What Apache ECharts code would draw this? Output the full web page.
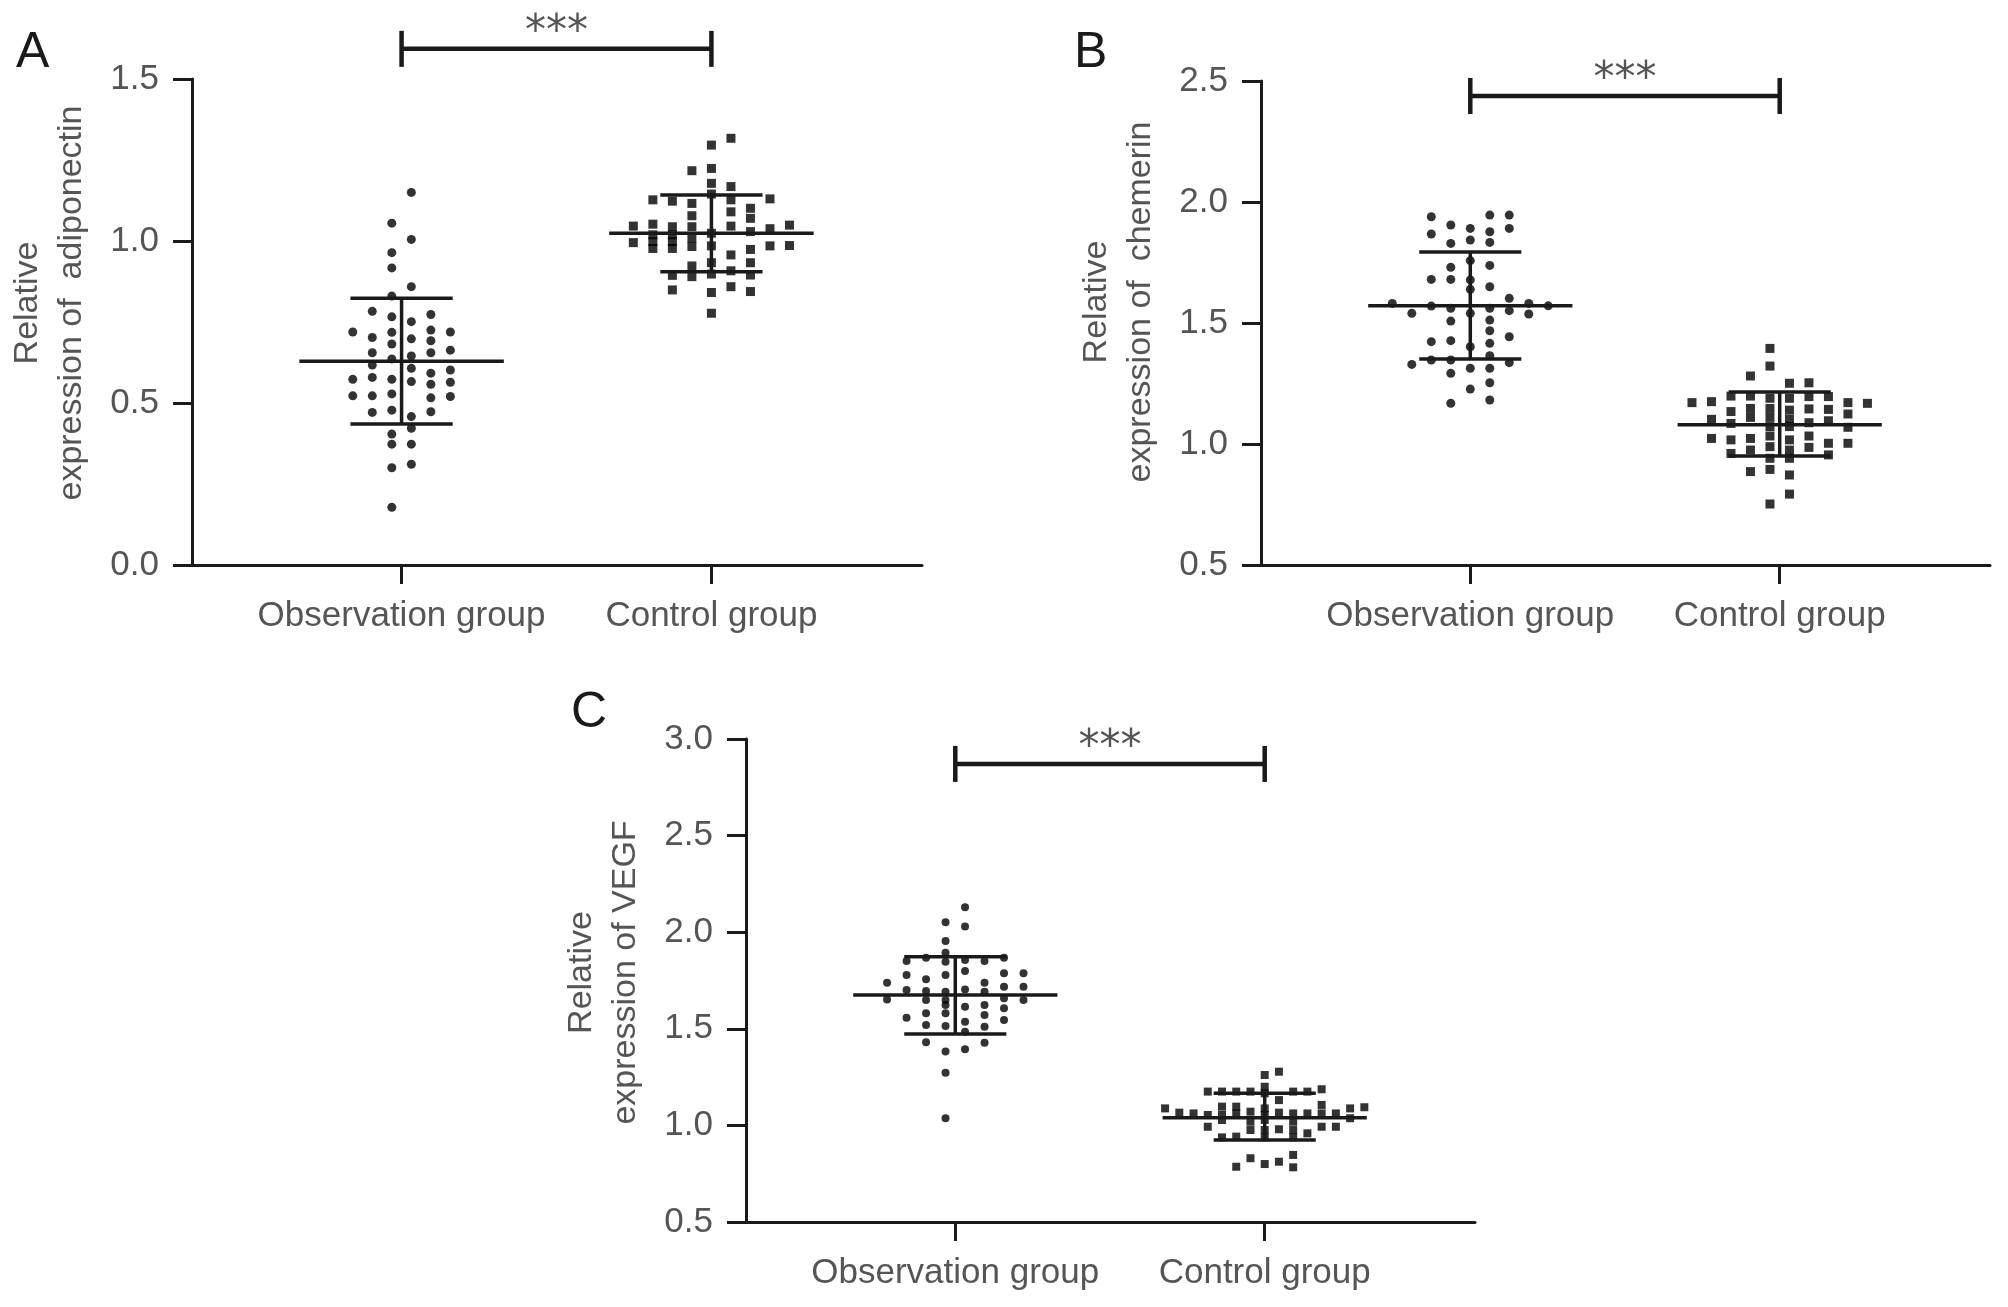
<!DOCTYPE html>
<html>
<head>
<meta charset="utf-8">
<script src="https://cdn.jsdelivr.net/npm/echarts@6/dist/echarts.min.js"></script>
<style>html,body{margin:0;padding:0;background:#fff}#chart{width:2008px;height:1307px}</style>
</head>
<body>
<div id="chart"></div>
<script>
// ---------- data ----------
const categories = ['Observation group', 'Control group'];
const groupPos = [1, 2];

// y-axis ticks per panel
const yTicksA = [0.0, 0.5, 1.0, 1.5];
const yTicksB = [0.5, 1.0, 1.5, 2.0, 2.5];
const yTicksC = [0.5, 1.0, 1.5, 2.0, 2.5, 3.0];

const yNameA = 'Relative\nexpression of  adiponectin';
const yNameB = 'Relative\nexpression of  chemerin';
const yNameC = 'Relative\nexpression of VEGF';

// points: [column in the dot swarm, value]
const obsA = [
  [0.5,1.150],[0.5,1.005],[0.5,0.859],[0.5,0.751],[0.5,0.698],[0.5,0.645],[0.5,0.607],[0.5,0.566],[0.5,0.458],[0.5,0.422],[0.5,0.373],[0.5,0.311],
  [-0.5,1.055],[-0.5,0.964],[-0.5,0.917],[-0.5,0.830],[-0.5,0.766],[-0.5,0.718],[-0.5,0.682],[-0.5,0.636],[-0.5,0.573],[-0.5,0.528],[-0.5,0.478],[-0.5,0.404],[-0.5,0.373],[-0.5,0.300],[-0.5,0.178],
  [-1.5,0.783],[-1.5,0.702],[-1.5,0.655],[-1.5,0.617],[-1.5,0.579],[-1.5,0.522],[-1.5,0.471],
  [-2.5,0.719],[-2.5,0.573],[-2.5,0.522],
  [1.5,0.773],[1.5,0.725],[1.5,0.692],[1.5,0.655],[1.5,0.592],[1.5,0.558],[1.5,0.516],[1.5,0.473],
  [2.5,0.719],[2.5,0.663],[2.5,0.602],[2.5,0.564],[2.5,0.520]
];
const ctrlA = [
  [0,1.296],[0,1.224],[0,1.178],[0,1.145],[0,1.024],[0,0.985],[0,0.933],[0,0.898],[0,0.841],[0,0.777],
  [1,1.317],[1,1.168],[1,1.127],[1,1.090],[1,1.046],[1,0.957],[1,0.908],[1,0.859],
  [-1,1.217],[-1,1.116],[-1,1.078],[-1,1.044],[-1,1.009],[-1,0.983],[-1,0.923],[-1,0.890],
  [-2,1.123],[-2,1.044],[-2,1.019],[-2,0.998],[-2,0.977],[-2,0.894],[-2,0.849],
  [2,1.101],[2,1.070],[2,1.029],[2,0.974],[2,0.933],[2,0.895],[2,0.844],
  [-3,1.127],[-3,1.052],[-3,1.019],[-3,0.998],[-3,0.977],
  [3,1.130],[3,1.038],[3,0.985],
  [-4,1.046],[-4,0.995],
  [4,1.049],[4,0.986]
];
const obsB = [
  [0,1.891],[0,1.843],[0,1.758],[0,1.678],[0,1.639],[0,1.540],[0,1.402],[0,1.313],[0,1.227],
  [1,1.946],[1,1.877],[1,1.833],[1,1.738],[1,1.650],[1,1.561],[1,1.512],[1,1.468],[1,1.416],[1,1.365],[1,1.313],[1,1.253],[1,1.182],
  [-1,1.905],[-1,1.829],[-1,1.730],[-1,1.680],[-1,1.561],[-1,1.508],[-1,1.427],[-1,1.347],[-1,1.292],[-1,1.168],
  [-2,1.939],[-2,1.868],[-2,1.680],[-2,1.570],[-2,1.423],[-2,1.347],
  [2,1.946],[2,1.891],[2,1.602],[2,1.551],[2,1.443],[2,1.336],
  [-3,1.540],[-3,1.329],
  [3,1.581],[3,1.537],
  [-4,1.581],
  [4,1.571]
];
const ctrlB = [
  [-0.5,1.395],[-0.5,1.322],[-0.5,1.189],[-0.5,1.147],[-0.5,1.110],[-0.5,1.072],[-0.5,1.033],[-0.5,0.989],[-0.5,0.941],[-0.5,0.895],[-0.5,0.752],
  [0.5,1.251],[0.5,1.189],[0.5,1.140],[0.5,1.102],[0.5,1.072],[0.5,1.017],[0.5,0.975],[0.5,0.941],[0.5,0.872],[0.5,0.793],
  [-1.5,1.281],[-1.5,1.198],[-1.5,1.147],[-1.5,1.110],[-1.5,1.023],[-1.5,0.975],[-1.5,0.886],
  [1.5,1.253],[1.5,1.196],[1.5,1.145],[1.5,1.088],[1.5,1.033],[1.5,0.986],
  [-2.5,1.198],[-2.5,1.134],[-2.5,1.085],[-2.5,1.017],[-2.5,0.961],
  [2.5,1.196],[2.5,1.143],[2.5,1.096],[2.5,1.003],[2.5,0.955],
  [-3.5,1.175],[-3.5,1.102],[-3.5,1.023],
  [3.5,1.171],[3.5,1.124],[3.5,1.069],[3.5,1.003],
  [-4.5,1.171],
  [4.5,1.168]
];
const obsC = [
  [-0.5,2.051],[-0.5,1.954],[-0.5,1.894],[-0.5,1.847],[-0.5,1.778],[-0.5,1.692],[-0.5,1.649],[-0.5,1.623],[-0.5,1.580],[-0.5,1.514],[-0.5,1.382],[-0.5,1.273],[-0.5,1.037],
  [0.5,2.129],[0.5,2.029],[0.5,1.856],[0.5,1.799],[0.5,1.704],[0.5,1.614],[0.5,1.537],[0.5,1.485],[0.5,1.394],
  [-1.5,1.868],[-1.5,1.756],[-1.5,1.696],[-1.5,1.649],[-1.5,1.580],[-1.5,1.520],[-1.5,1.430],
  [1.5,1.851],[1.5,1.739],[1.5,1.692],[1.5,1.623],[1.5,1.571],[1.5,1.511],[1.5,1.428],
  [-2.5,1.851],[-2.5,1.778],[-2.5,1.701],[-2.5,1.557],
  [2.5,1.868],[2.5,1.787],[2.5,1.718],[2.5,1.658],[2.5,1.606],[2.5,1.546],
  [-3.5,1.739],[-3.5,1.652],
  [3.5,1.787],[3.5,1.718],[3.5,1.649]
];
const ctrlC = [
  [-7,1.088],[-6,1.066],[-5,1.062],
  [-4,1.175],[-4,1.054],[-4,0.993],
  [-3,1.175],[-3,1.097],[-3,1.054],[-3,1.028],[-3,0.938],
  [-2,1.175],[-2,1.097],[-2,1.062],[-2,0.942],[-2,0.786],
  [-1,1.175],[-1,1.071],[-1,1.019],[-1,0.976],[-1,0.830],
  [0,1.261],[0,1.200],[0,1.166],[0,1.088],[0,1.054],[0,1.028],[0,0.976],[0,0.938],[0,0.800],
  [1,1.278],[1,1.131],[1,1.066],[1,0.980],[1,0.812],
  [2,1.175],[2,1.062],[2,1.019],[2,0.976],[2,0.938],[2,0.847],[2,0.783],
  [3,1.175],[3,1.062],[3,0.959],
  [4,1.187],[4,1.106],[4,1.062],[4,0.993],
  [5,1.062],[5,0.993],
  [6,1.088],[6,1.037],
  [7,1.094]
];

// mean and SD bars: [mean, lower, upper] for [observation, control]
const statsA = [[0.629, 0.435, 0.823], [1.024, 0.905, 1.142]];
const statsB = [[1.571, 1.351, 1.793], [1.080, 0.950, 1.215]];
const statsC = [[1.675, 1.473, 1.873], [1.040, 0.924, 1.166]];

// significance bracket level (value on the y scale) and label
const sigA = [1.593, '***'];
const sigB = [2.438, '***'];
const sigC = [2.871, '***'];

// ---------- chart ----------
const FONT = "'Liberation Sans', Arial, sans-serif";
const GREY = '#555';
const INK = '#1a1a1a';

const panels = [
  {letter:'A', ticks:yTicksA, name:yNameA, obs:obsA, ctrl:ctrlA, stats:statsA, sig:sigA,
   grid:{left:192, top:79, width:730, height:486}, step:[0.063,0.063], size:[9,9], namePad:38, letterPos:[34,58]},
  {letter:'B', ticks:yTicksB, name:yNameB, obs:obsB, ctrl:ctrlB, stats:statsB, sig:sigB,
   grid:{left:1261, top:81, width:729, height:484}, step:[0.063,0.063], size:[9,9], namePad:42, letterPos:[1092,58]},
  {letter:'C', ticks:yTicksC, name:yNameC, obs:obsC, ctrl:ctrlC, stats:statsC, sig:sigC,
   grid:{left:746, top:739, width:729, height:483}, step:[0.063,0.046], size:[8,8], namePad:16, letterPos:[589,718]}
];

const grids = [], xAxes = [], yAxes = [], series = [], graphics = [];

panels.forEach((p, i) => {
  grids.push(Object.assign({containLabel:false}, p.grid));
  const pxPerUnit = 309;
  xAxes.push({
    type:'value', gridIndex:i,
    min: 1 - 209 / pxPerUnit,
    max: 2 + 210 / pxPerUnit,
    splitLine:{show:false},
    axisLine:{show:true, onZero:false, lineStyle:{color:INK, width:3}},
    axisTick:{show:true, customValues:groupPos, length:19, lineStyle:{color:INK, width:3}},
    axisLabel:{show:true, customValues:groupPos, margin:34, color:GREY, fontSize:35, fontFamily:FONT,
      formatter: v => categories[Math.round(v) - 1] || ''}
  });
  const t = p.ticks;
  yAxes.push({
    type:'value', gridIndex:i,
    min:t[0], max:t[t.length-1], interval:t[1]-t[0],
    splitLine:{show:false},
    axisLine:{show:true, onZero:false, lineStyle:{color:INK, width:3}},
    axisTick:{show:true, length:19, lineStyle:{color:INK, width:3}},
    axisLabel:{margin:33, color:GREY, fontSize:35, fontFamily:FONT, formatter: v => v.toFixed(1)},
    name:p.name, nameLocation:'middle', nameRotate:90, nameGap:98,
    nameTextStyle:{color:GREY, fontSize:34, fontFamily:FONT, lineHeight:44, padding:[0,0,0,p.namePad]}
  });

  [p.obs, p.ctrl].forEach((pts, g) => {
    series.push({
      type:'scatter', xAxisIndex:i, yAxisIndex:i,
      symbol: g === 0 ? 'circle' : 'rect',
      symbolSize: p.size[g],
      itemStyle:{color:'#000'},
      silent:true, z:2,
      data: pts.map(d => [groupPos[g] + d[0] * p.step[g], d[1]])
    });
  });

  // mean ± SD bars
  series.push({
    type:'custom', xAxisIndex:i, yAxisIndex:i, z:3, silent:true, clip:false,
    data: p.stats.map((s, g) => [groupPos[g], s[0], s[1], s[2]]),
    renderItem: (params, api) => {
      const x = api.value(0), m = api.value(1), lo = api.value(2), hi = api.value(3);
      const mw = 0.33, sw = 0.165;
      const st = {stroke:INK, lineWidth:3.5};
      const seg = (a, b) => ({type:'line', shape:{x1:a[0], y1:a[1], x2:b[0], y2:b[1]}, style:st});
      return {type:'group', children:[
        seg(api.coord([x - mw, m]), api.coord([x + mw, m])),
        seg(api.coord([x - sw, hi]), api.coord([x + sw, hi])),
        seg(api.coord([x - sw, lo]), api.coord([x + sw, lo])),
        seg(api.coord([x, lo]), api.coord([x, hi]))
      ]};
    }
  });

  // significance bracket
  series.push({
    type:'custom', xAxisIndex:i, yAxisIndex:i, z:4, silent:true, clip:false,
    data:[[groupPos[0], groupPos[1], p.sig[0]]],
    renderItem: (params, api) => {
      const a = api.coord([api.value(0), api.value(2)]);
      const b = api.coord([api.value(1), api.value(2)]);
      const st = {stroke:INK, lineWidth:4.5};
      return {type:'group', children:[
        {type:'line', shape:{x1:a[0], y1:a[1], x2:b[0], y2:b[1]}, style:st},
        {type:'line', shape:{x1:a[0], y1:a[1]-18, x2:a[0], y2:a[1]+18}, style:st},
        {type:'line', shape:{x1:b[0], y1:b[1]-18, x2:b[0], y2:b[1]+18}, style:st},
        {type:'text', style:{text:p.sig[1], x:(a[0]+b[0])/2, y:a[1]-16, align:'center', verticalAlign:'middle',
          fontSize:42, fontFamily:"'DejaVu Sans', sans-serif", fill:GREY}}
      ]};
    }
  });

  graphics.push({type:'text', left:p.letterPos[0] - 18, top:p.letterPos[1] - 30,
    style:{text:p.letter, fontSize:50, fontFamily:FONT, fill:INK}});
});

const chart = echarts.init(document.getElementById('chart'), null, {renderer:'canvas'});
chart.setOption({
  animation:false,
  backgroundColor:'#fff',
  grid:grids, xAxis:xAxes, yAxis:yAxes, series:series, graphic:graphics
});
</script>
</body>
</html>
